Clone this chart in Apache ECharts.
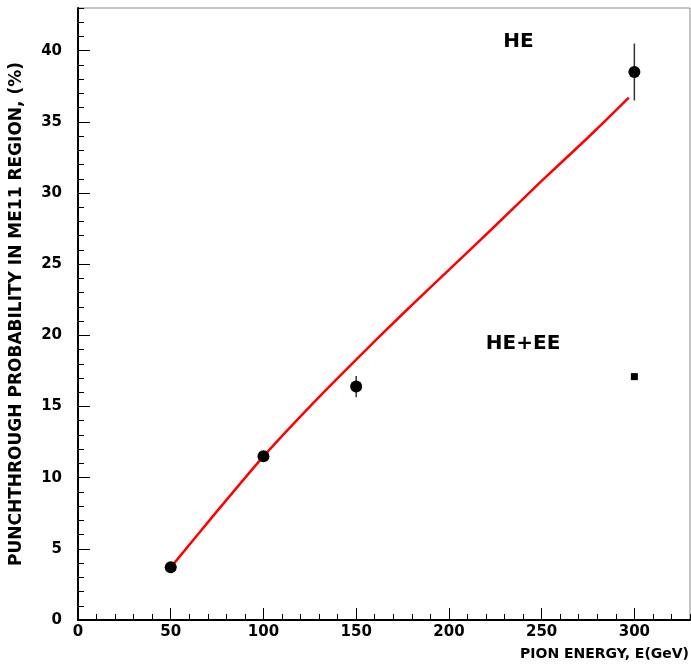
<!DOCTYPE html>
<html>
<head>
<meta charset="utf-8">
<script src="https://cdn.jsdelivr.net/npm/echarts@6/dist/echarts.min.js"></script>
<style>
  html, body { margin: 0; padding: 0; background: #fff; }
  #chart { width: 691px; height: 668px; }
</style>
</head>
<body>
<div id="chart"></div>
<script>
// measured points, HE only
const heEnergy = [50, 100, 150, 300];
const heProb = [3.7, 11.5, 16.4, 38.5];
const heErr = [0, 0, 0.75, 2.0];

// HE+EE point
const heeeEnergy = [300];
const heeeProb = [17.1];

// fitted curve
const fitEnergy = [50, 75, 100, 125, 150, 175, 200, 225, 250, 275, 297];
const fitProb = [3.7, 7.65, 11.5, 15.0, 18.3, 21.5, 24.6, 27.7, 30.85, 33.9, 36.7];

const fontName = 'DejaVu Sans, Liberation Sans, sans-serif';
const labelFont = { color: '#000', fontSize: 15, fontWeight: 'bold', fontFamily: fontName };

const chart = echarts.init(document.getElementById('chart'));

const zip = (xs, ys) => xs.map((x, i) => [x, ys[i]]);

const option = {
  backgroundColor: '#fff',
  animation: false,
  grid: {
    left: 78, right: 1, top: 8, bottom: 48,
    outerBoundsMode: 'none',
    show: true, borderColor: '#888', borderWidth: 1
  },
  xAxis: [{
    type: 'value', min: 0, max: 330, interval: 50,
    axisLine: { show: true, lineStyle: { color: '#000', width: 2 } },
    axisTick: { inside: true, length: 12, lineStyle: { color: '#000', width: 1 } },
    axisLabel: { ...labelFont, margin: 5, showMaxLabel: false },
    splitLine: { show: false }
  }, {
    type: 'value', min: 0, max: 330, interval: 10, position: 'bottom',
    axisLine: { show: false },
    axisTick: { inside: true, length: 6, lineStyle: { color: '#000', width: 1 } },
    axisLabel: { show: false },
    splitLine: { show: false }
  }],
  yAxis: [{
    type: 'value', min: 0, max: 43, interval: 5,
    name: 'PUNCHTHROUGH PROBABILITY IN ME11 REGION, (%)',
    nameLocation: 'middle', nameGap: 53,
    nameTextStyle: { color: '#000', fontSize: 17, fontWeight: 'bold', fontFamily: fontName },
    axisLine: { show: true, lineStyle: { color: '#000', width: 2 } },
    axisTick: { inside: true, length: 12, lineStyle: { color: '#000', width: 1 } },
    axisLabel: { ...labelFont, margin: 16, showMaxLabel: false },
    splitLine: { show: false }
  }, {
    type: 'value', min: 0, max: 43, interval: 1, position: 'left',
    axisLine: { show: false },
    axisTick: { inside: true, length: 6, lineStyle: { color: '#000', width: 1 } },
    axisLabel: { show: false },
    splitLine: { show: false }
  }],
  series: [{
    type: 'line',
    data: zip(fitEnergy, fitProb),
    smooth: 0.2,
    showSymbol: false,
    lineStyle: { color: '#ff0000', width: 2.5 },
    z: 3
  }, {
    type: 'custom',
    data: heEnergy.map((e, i) => [e, heProb[i] - heErr[i], heProb[i] + heErr[i]]),
    renderItem: (params, api) => {
      const lo = api.coord([api.value(0), api.value(1)]);
      const hi = api.coord([api.value(0), api.value(2)]);
      return {
        type: 'line',
        shape: { x1: lo[0], y1: lo[1], x2: hi[0], y2: hi[1] },
        style: { stroke: '#333', lineWidth: 1.5 }
      };
    },
    z: 4
  }, {
    type: 'scatter',
    data: zip(heEnergy, heProb),
    symbol: 'circle', symbolSize: 12,
    itemStyle: { color: '#000', opacity: 1 },
    z: 5
  }, {
    type: 'scatter',
    data: zip(heeeEnergy, heeeProb),
    symbol: 'rect', symbolSize: 7,
    itemStyle: { color: '#000', opacity: 1 },
    z: 5
  }]
};

chart.setOption(option);

const heAt = chart.convertToPixel({ gridIndex: 0 }, [237.5, 40.6]);
const heeeAt = chart.convertToPixel({ gridIndex: 0 }, [240, 19.4]);
const noteFont = { fill: '#000', fontSize: 20, fontWeight: 'bold', fontFamily: fontName, align: 'center', verticalAlign: 'middle' };

chart.setOption({
  graphic: [
    { type: 'text', x: heAt[0], y: heAt[1], style: { text: 'HE', ...noteFont } },
    { type: 'text', x: heeeAt[0], y: heeeAt[1], style: { text: 'HE+EE', ...noteFont } },
    { type: 'text', right: 2, top: 647, style: { text: 'PION ENERGY, E(GeV)', fill: '#000', fontSize: 14, fontWeight: 'bold', fontFamily: fontName } }
  ]
});
</script>
</body>
</html>
